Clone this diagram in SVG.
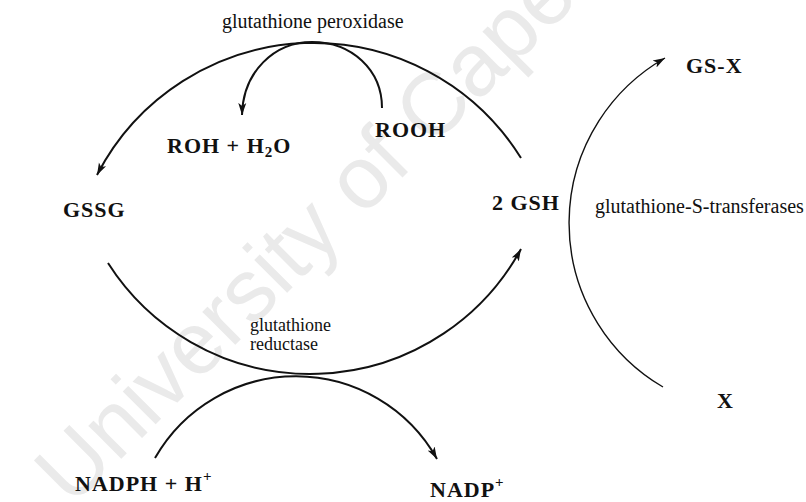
<svg xmlns="http://www.w3.org/2000/svg" width="806" height="502" viewBox="0 0 806 502">
  <style>
    .lbl { font-family: "Liberation Serif", "Times New Roman", serif; font-weight: bold; font-size: 22px; letter-spacing: 1px; fill: #111; }
    .enz { font-family: "Liberation Serif", "Times New Roman", serif; font-size: 20px; fill: #111; }
    .enz2 { font-family: "Liberation Serif", "Times New Roman", serif; font-size: 18px; fill: #111; }
    .arc { fill: none; stroke: #111; stroke-width: 2; }
    .thin { stroke-width: 1.4; }
    .wm { font-family: "Liberation Sans", Arial, sans-serif; font-size: 88px; fill: #eaeaea; }
  </style>
  <defs>
    <marker id="ah" markerWidth="14" markerHeight="10" refX="12" refY="5" orient="auto" markerUnits="userSpaceOnUse">
      <path d="M0,1 L12,5 L0,9 L3,5 Z" fill="#111"/>
    </marker>
  </defs>
  <rect width="806" height="502" fill="#fff"/>
  <g id="watermark">
    <text class="wm" x="72" y="508" transform="rotate(-45 72 508)">University of Cape</text>
  </g>
  <g id="connectors">
    <path id="c-gsh-gssg" class="arc" d="M521,158 A244,244 0 0 0 97,175" marker-end="url(#ah)"/>
    <path id="c-rooh-roh" class="arc" d="M382,108 C382,70 352,42 312,42 C274,42 243,72 242,115" marker-end="url(#ah)"/>
    <path id="c-gssg-gsh" class="arc" d="M108,263 A240,240 0 0 0 521,249" marker-end="url(#ah)"/>
    <path id="c-nadph-nadp" class="arc" d="M155,458 A162,162 0 0 1 437,459" marker-end="url(#ah)"/>
    <path id="c-x-gsx" class="arc thin" d="M663,387 A190,190 0 0 1 665,58" marker-end="url(#ah)"/>
  </g>
  <g id="gpx"><text class="enz" x="222" y="28">glutathione peroxidase</text></g>
  <g id="roh"><text class="lbl" x="167" y="153">ROH + H<tspan font-size="15" dy="4">2</tspan><tspan dy="-4">O</tspan></text></g>
  <g id="rooh"><text class="lbl" x="375" y="137">ROOH</text></g>
  <g id="gssg"><text class="lbl" x="63" y="217">GSSG</text></g>
  <g id="gsh"><text class="lbl" x="492" y="210">2 GSH</text></g>
  <g id="gst"><text class="enz" x="595" y="213">glutathione-S-transferases</text></g>
  <g id="gsx"><text class="lbl" x="686" y="73">GS-X</text></g>
  <g id="x"><text class="lbl" x="717" y="408">X</text></g>
  <g id="gr"><text class="enz2" x="250" y="331">glutathione</text><text class="enz2" x="250" y="350">reductase</text></g>
  <g id="nadph"><text class="lbl" x="75" y="491">NADPH + H<tspan font-size="15" dy="-10">+</tspan></text></g>
  <g id="nadp"><text class="lbl" x="430" y="497">NADP<tspan font-size="15" dy="-10">+</tspan></text></g>
</svg>
